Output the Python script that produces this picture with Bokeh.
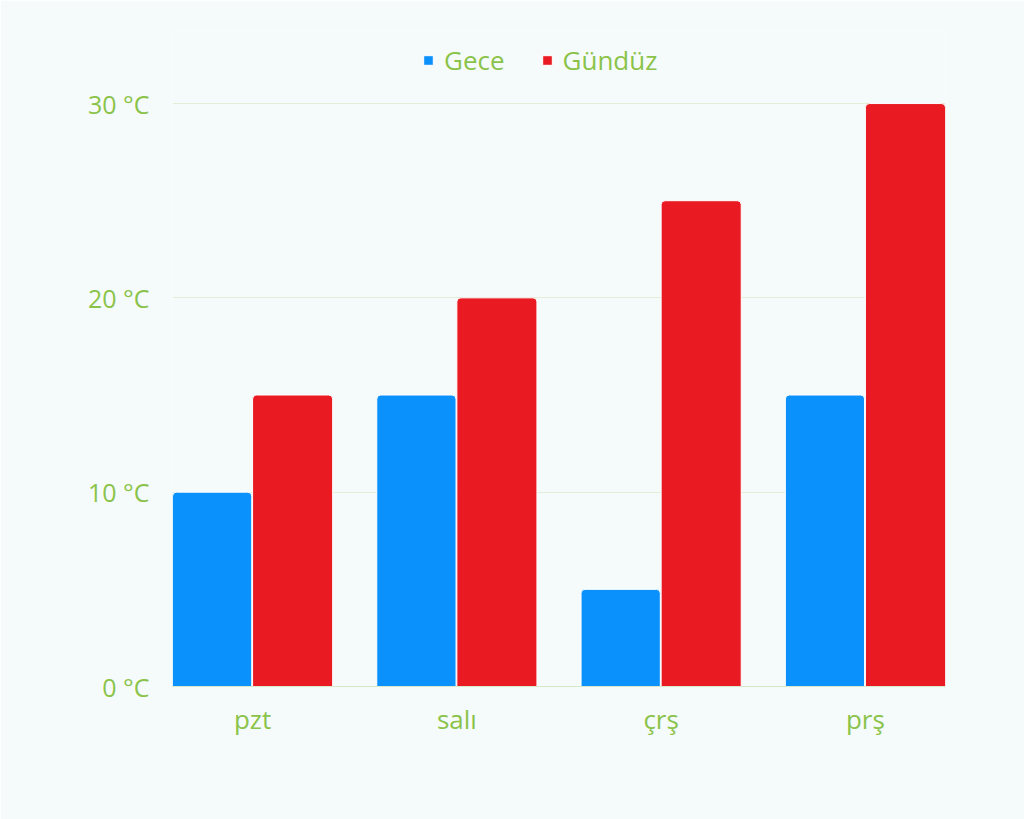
from bokeh.plotting import figure
from bokeh.models import Range1d, FixedTicker, Legend, LegendItem, ColumnDataSource
from bokeh.transform import dodge
from bokeh.embed import file_html
from bokeh.resources import INLINE

categories = ["pzt", "salı", "çrş", "prş"]
night = [10, 15, 5, 15]
day = [15, 20, 25, 30]
series_names = ["Gece", "Gündüz"]
y_ticks = [0, 10, 20, 30]

GREEN = "#8bc34a"
BG = "#f5fbfb"
FONT = "Open Sans"

xs = list(range(len(categories)))
src = ColumnDataSource(dict(x=xs, night=night, day=day))

p = figure(width=1024, height=819, output_backend="svg", toolbar_location=None,
           x_range=Range1d(-0.392, 3.392), y_range=Range1d(0, 33.76),
           min_border_left=172, min_border_right=79, min_border_top=30,
           min_border_bottom=133)
p.background_fill_color = BG
p.border_fill_color = BG
p.outline_line_color = None

r1 = p.vbar(x=dodge("x", -0.198), top="night", width=0.388, source=src,
            fill_color="#0a91fb", line_color="white", line_width=1,
            border_radius=(4, 4, 0, 0))
r2 = p.vbar(x=dodge("x", 0.196), top="day", width=0.392, source=src,
            fill_color="#e91a21", line_color="white", line_width=1,
            border_radius=(4, 4, 0, 0))

p.xgrid.visible = False
p.ygrid.grid_line_color = "#e2eed8"
p.ygrid.ticker = FixedTicker(ticks=y_ticks)

p.yaxis.ticker = FixedTicker(ticks=y_ticks)
p.yaxis.major_label_overrides = {t: f"{t} °C" for t in y_ticks}
p.yaxis.axis_line_color = None
p.yaxis.major_tick_line_color = None
p.yaxis.minor_tick_line_color = None
p.yaxis.major_label_standoff = 17
p.yaxis.major_label_text_color = GREEN
p.yaxis.major_label_text_font = FONT
p.yaxis.major_label_text_font_size = "25px"

p.xaxis.ticker = FixedTicker(ticks=xs)
p.xaxis.major_label_overrides = {i: c for i, c in enumerate(categories)}
p.xaxis.axis_line_color = "#d6e8c8"
p.xaxis.major_tick_line_color = None
p.xaxis.minor_tick_line_color = None
p.xaxis.major_label_standoff = 8
p.xaxis.major_label_text_color = GREEN
p.xaxis.major_label_text_font = FONT
p.xaxis.major_label_text_font_size = "26px"

legend = Legend(items=[LegendItem(label=series_names[0], renderers=[r1]),
                       LegendItem(label=series_names[1], renderers=[r2])],
                orientation="horizontal", location=(250, 608),
                background_fill_alpha=0, border_line_color=None,
                label_text_color=GREEN, label_text_font=FONT,
                label_text_font_size="26px", glyph_width=12, glyph_height=12,
                spacing=36, margin=0, padding=0, label_standoff=10)
p.add_layout(legend, "center")

open("out.html", "w").write(file_html(p, INLINE))
